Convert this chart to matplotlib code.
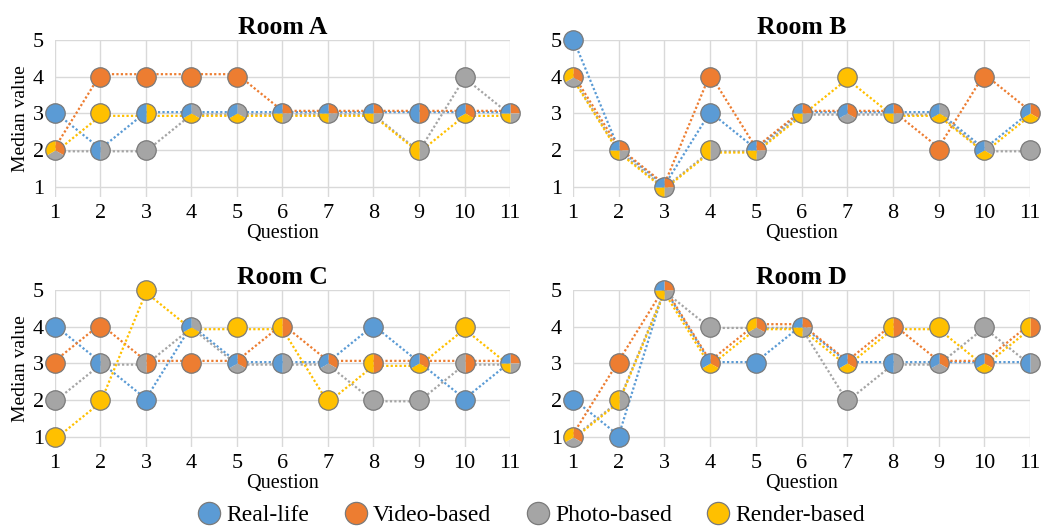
import numpy as np
import matplotlib
matplotlib.use("Agg")
import matplotlib.pyplot as plt
from matplotlib.path import Path
from matplotlib.lines import Line2D
from matplotlib.transforms import ScaledTranslation

plt.rcParams['font.family'] = ['Liberation Serif', 'DejaVu Serif']

# data: median value per question, per room and presentation method
questions = list(range(1, 12))
rooms = ['Room A', 'Room B', 'Room C', 'Room D']
methods = ['Real-life', 'Video-based', 'Photo-based', 'Render-based']

real_life = {
    'Room A': [3, 2, 3, 3, 3, 3, 3, 3, 3, 3, 3],
    'Room B': [5, 2, 1, 3, 2, 3, 3, 3, 3, 2, 3],
    'Room C': [4, 3, 2, 4, 3, 3, 3, 4, 3, 2, 3],
    'Room D': [2, 1, 5, 3, 3, 4, 3, 3, 3, 3, 3],
}
video_based = {
    'Room A': [2, 4, 4, 4, 4, 3, 3, 3, 3, 3, 3],
    'Room B': [4, 2, 1, 4, 2, 3, 3, 3, 2, 4, 3],
    'Room C': [3, 4, 3, 3, 3, 4, 3, 3, 3, 3, 3],
    'Room D': [1, 3, 5, 3, 4, 4, 3, 4, 3, 3, 4],
}
photo_based = {
    'Room A': [2, 2, 2, 3, 3, 3, 3, 3, 2, 4, 3],
    'Room B': [4, 2, 1, 2, 2, 3, 3, 3, 3, 2, 2],
    'Room C': [2, 3, 3, 4, 3, 3, 3, 2, 2, 3, 3],
    'Room D': [1, 2, 5, 4, 4, 4, 2, 3, 3, 4, 3],
}
render_based = {
    'Room A': [2, 3, 3, 3, 3, 3, 3, 3, 2, 3, 3],
    'Room B': [4, 2, 1, 2, 2, 3, 4, 3, 3, 2, 3],
    'Room C': [1, 2, 5, 4, 4, 4, 2, 3, 3, 4, 3],
    'Room D': [1, 2, 5, 3, 4, 4, 3, 4, 4, 3, 4],
}
series = [real_life, video_based, photo_based, render_based]

colors = ['#5B9BD5', '#ED7D31', '#A5A5A5', '#FFC000']
line_dy = [0.9, 1.8, -0.9, -1.8]     # small offsets (pt) so overlapping lines stay visible
pie_order = [1, 2, 3, 0]             # clockwise from top: video, photo, render, real
edge = '#7a7a7a'


def wedge_marker(t1, t2):
    ang = np.radians(np.linspace(t1, t2, 40))
    verts = [(0, 0)] + list(zip(np.cos(ang), np.sin(ang))) + [(0, 0), (1, 1)]
    codes = [Path.MOVETO] + [Path.LINETO] * len(ang) + [Path.CLOSEPOLY, Path.MOVETO]
    return Path(verts, codes)


fig = plt.figure(figsize=(10.59, 5.27), dpi=100)
positions = [
    [0.0519, 0.6262, 0.4297, 0.2979],
    [0.5411, 0.6262, 0.4315, 0.2979],
    [0.0519, 0.1518, 0.4297, 0.2979],
    [0.5411, 0.1518, 0.4315, 0.2979],
]
ms = 14

for r, room in enumerate(rooms):
    ax = fig.add_axes(positions[r])
    for s in range(4):
        vals = series[s][room]
        tr = ax.transData + ScaledTranslation(0, line_dy[s] / 72, fig.dpi_scale_trans)
        ax.plot(questions, vals, color=colors[s], lw=1.6, ls=(0, (1, 1)),
                transform=tr, zorder=2)

    for i, q in enumerate(questions):
        values = [series[s][room][i] for s in range(4)]
        for v in sorted(set(values)):
            members = [s for s in pie_order if values[s] == v]
            n = len(members)
            for k, s in enumerate(members):
                if n == 1:
                    mk = 'o'
                else:
                    t1 = 90 - k * 360 / n
                    t2 = 90 - (k + 1) * 360 / n
                    mk = wedge_marker(t2, t1)
                ax.plot([q], [v], marker=mk, ms=ms, mfc=colors[s], mew=0,
                        ls='none', zorder=4, clip_on=False)
            ax.plot([q], [v], marker='o', ms=ms, mfc='none', mec=edge, mew=0.9,
                    ls='none', zorder=5, clip_on=False)

    ax.set_xlim(1, 11)
    ax.set_ylim(0.72, 5)
    ax.set_xticks(questions)
    ax.set_yticks([1, 2, 3, 4, 5])
    ax.grid(True, color='#d9d9d9', lw=1)
    ax.set_axisbelow(True)
    for sp in ax.spines.values():
        sp.set_visible(False)
    ax.tick_params(length=0, labelsize=16)
    ax.tick_params(axis='y', pad=8)
    ax.tick_params(axis='x', pad=5)
    ax.set_title(room, fontsize=18.5, fontweight='bold', pad=4)
    ax.set_xlabel('Question', fontsize=14.5, labelpad=1)
    if r % 2 == 0:
        ax.set_ylabel('Median value', fontsize=14, labelpad=3)

handles = [Line2D([], [], marker='o', ls='none', ms=16, mfc=c, mec=edge, mew=0.9)
           for c in colors]
fig.legend(handles, methods, loc='center', bbox_to_anchor=(0.5, 0.022), ncol=4,
           frameon=False, fontsize=17, handlelength=1.3, handletextpad=0.1,
           columnspacing=1.3, borderaxespad=0)

fig.savefig('out.png', dpi=100)
